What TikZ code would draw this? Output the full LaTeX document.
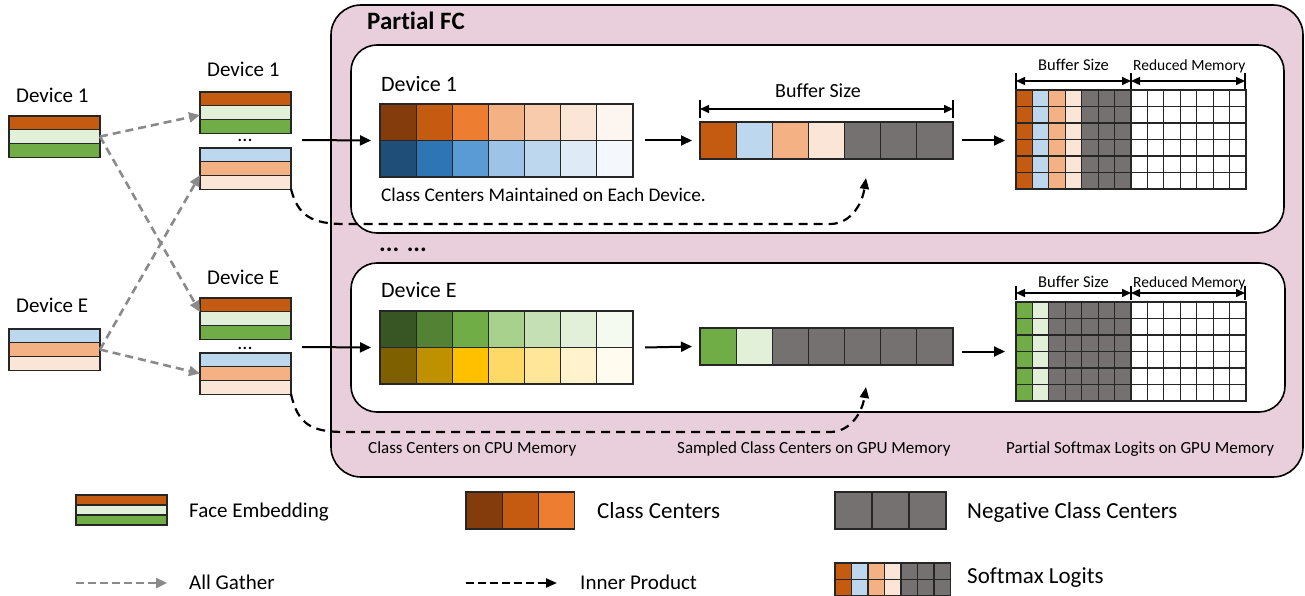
\documentclass[tikz,border=0pt]{standalone}
\usepackage{fontspec}
\setmainfont{Carlito}[Ligatures={NoCommon}]
\usetikzlibrary{arrows.meta,calc}

% palette
\definecolor{pinkbg}{HTML}{E9CFDB}
\definecolor{rust}{HTML}{C55A11}
\definecolor{lgreen}{HTML}{E2F0D9}
\definecolor{egreen}{HTML}{70AD47}
\definecolor{lblue}{HTML}{BDD7EE}
\definecolor{peach}{HTML}{F4B183}
\definecolor{cream}{HTML}{FBE5D6}
\definecolor{neg}{HTML}{767171}
\definecolor{gatherc}{HTML}{8A8A8A}

\tikzset{
  stripe/.style={draw=black!85, line width=1.1pt, inner sep=0pt, outer sep=0pt,
    minimum width=91pt, anchor=north west},
  cellbox/.style={draw=black!85, line width=1.1pt, inner sep=0pt, outer sep=0pt,
    anchor=north west},
  holder/.style={inner sep=0pt, outer sep=0pt, anchor=north west},
  panel/.style={draw=black, line width=1.6pt, inner sep=0pt, outer sep=0pt,
    anchor=north west},
  gather/.style={draw=gatherc, line width=2.6pt, dash pattern=on 8pt off 5pt,
    -{Triangle[length=11pt,width=10pt]}},
  innerprod/.style={draw=black, line width=2.2pt, dash pattern=on 9pt off 6pt,
    -{Triangle[length=11pt,width=9pt]}},
  flow/.style={draw=black, line width=2pt, -{Triangle[length=11pt,width=10pt]}},
  span/.style={draw=black, line width=1.5pt,
    {Triangle[length=9pt,width=8pt]}-{Triangle[length=9pt,width=8pt]}},
  tickbar/.style={draw=black, line width=2pt},
  lab/.style={inner sep=0pt, anchor=base west, font=\fontsize{21}{25}\selectfont},
  biglab/.style={inner sep=0pt, anchor=base west, font=\fontsize{23}{27}\selectfont},
  captext/.style={inner sep=0pt, anchor=base west, font=\fontsize{17}{20}\selectfont},
}

% three-stripe face embedding: name, x, top y, stripe height, colours top to bottom
\newcommand\embstack[7]{%
  \node[stripe, fill=#5, minimum height=#4pt] at (#2,#3) {};
  \node[stripe, fill=#6, minimum height=#4pt] at (#2,#3+#4) {};
  \node[stripe, fill=#7, minimum height=#4pt] at (#2,#3+2*#4) {};
  \node[holder, minimum width=91pt, minimum height={3*#4pt}] (#1) at (#2,#3) {};
}

\begin{document}
\begin{tikzpicture}[x=1pt,y=-1pt]
\useasboundingbox (0,0) rectangle (1305,596);

% ---------- Partial FC frame and the two device panels ----------
\node[panel, fill=pinkbg, rounded corners=30pt, minimum width=972pt,
  minimum height=472pt] (pfc) at (331,5) {};
\node[inner sep=0pt, anchor=base west, font=\bfseries\fontsize{25}{30}\selectfont]
  (pfctitle) at (367,30) {Part\kern0pt ial FC};
\node[panel, fill=white, rounded corners=26pt, minimum width=933pt,
  minimum height=188pt] (box1) at (351,45) {};
\node[panel, fill=white, rounded corners=26pt, minimum width=934pt,
  minimum height=149pt] (box2) at (351,263) {};
\node[inner sep=0pt, anchor=base, font=\bfseries\fontsize{25}{30}\selectfont] (more) at (403,251) {... ...};

% ---------- embeddings on the devices ----------
\node[lab] (l1lab) at (16,103) {Device 1};
\node[lab] (lelab) at (16,312) {Device E};
\node[lab] (m1lab) at (207,77) {Device 1};
\node[lab] (melab) at (207,284) {Device E};

\embstack{L1}{9}{116}{13.7}{rust}{lgreen}{egreen}
\embstack{LE}{9}{329}{13.7}{lblue}{peach}{cream}
\embstack{M1a}{200}{92}{13.7}{rust}{lgreen}{egreen}
\embstack{M1b}{200}{148}{13.7}{lblue}{peach}{cream}
\embstack{MEa}{200}{298}{13.7}{rust}{lgreen}{egreen}
\embstack{MEb}{200}{353}{13.7}{lblue}{peach}{cream}

\node[inner sep=0pt, anchor=base, font=\fontsize{20}{24}\selectfont] (dots1) at (245,142) {...};
\node[inner sep=0pt, anchor=base, font=\fontsize{20}{24}\selectfont] (dots2) at (245,349) {...};

% all-gather exchange
\draw[gather] (L1.east) -- ([yshift=-2.5pt]M1a.west);
\draw[gather] (L1.east) -- ([yshift=6.5pt]MEa.west);
\draw[gather] (LE.east) -- ([yshift=-6.5pt]M1b.west);
\draw[gather] (LE.east) -- (MEb.west);

% ---------- panel 1 : Device 1 ----------
\node[lab, font=\fontsize{22}{26}\selectfont] (d1lab) at (381,92) {Device 1};
\foreach \c [count=\i from 0] in {843C0C,C55A11,ED7D31,F4B183,F8CBAD,FBE5D6,FDF6F0} {
  \definecolor{tmpc}{HTML}{\c}
  \node[cellbox, fill=tmpc, minimum width=36.14pt, minimum height=36.5pt] (g1a\i) at (380+\i*36.14,104) {};
}
\foreach \c [count=\i from 0] in {1F4E79,2E75B6,5B9BD5,9DC3E6,BDD7EE,DEEBF7,F4F8FC} {
  \definecolor{tmpc}{HTML}{\c}
  \node[cellbox, fill=tmpc, minimum width=36.14pt, minimum height=36.5pt] (g1b\i) at (380+\i*36.14,140.5) {};
}
\node[holder, minimum width=253pt, minimum height=73pt] (G1) at (380,104) {};
\node[captext, font=\fontsize{19.3}{22}\selectfont] (g1cap) at (381,201) {Class Centers Maintained on Each Device.};

% sampled buffer
\foreach \c [count=\i from 0] in {rust,lblue,peach,cream,neg,neg,neg} {
  \node[cellbox, fill=\c, minimum width=36.14pt, minimum height=37pt] (b1c\i) at (700+\i*36.14,122) {};
}
\node[holder, minimum width=253pt, minimum height=37pt] (B1) at (700,122) {};
\coordinate (bs1l) at (700,109);
\coordinate (bs1r) at (953,109);
\draw[tickbar] ([yshift=9pt]bs1l) -- ([yshift=-9pt]bs1l);
\draw[tickbar] ([yshift=9pt]bs1r) -- ([yshift=-9pt]bs1r);
\draw[span] (bs1l) -- (bs1r);
\node[lab, font=\fontsize{20}{24}\selectfont] (bs1lab) at (775,98) {Buffer Size};

% partial logits
\foreach \c [count=\i from 0] in {rust,lblue,peach,cream,neg,neg,neg,white,white,white,white,white,white,white} {
  \foreach \r in {0,...,5} {
    \node[cellbox, fill=\c, minimum width=16.43pt, minimum height=16.5pt] (lg1-\i-\r) at (1016+\i*16.43,90+\r*16.5) {};
  }
}
\node[holder, minimum width=230pt, minimum height=99pt] (LG1) at (1016,90) {};
\coordinate (lt1a) at (1016,81);
\coordinate (lt1b) at (1131,81);
\coordinate (lt1c) at (1245,81);
\foreach \t in {lt1a,lt1b,lt1c} \draw[tickbar] ([yshift=8pt]\t) -- ([yshift=-8pt]\t);
\draw[span] (lt1a) -- (lt1b);
\draw[span] (lt1b) -- (lt1c);
\node[lab, font=\fontsize{16.5}{20}\selectfont] (lbs1) at (1038,71) {Buffer Size};
\node[lab, font=\fontsize{15.5}{19}\selectfont] (lrm1) at (1133,71) {Reduced Memory};

% flow in panel 1
\coordinate (in1) at (302,140);
\draw[flow] (in1) -- ([xshift=-9pt]G1.west);
\draw[flow] ([xshift=12pt]G1.east) -- ([xshift=-8pt]B1.west);
\draw[flow] ([xshift=9pt]B1.east) -- ([xshift=-11pt]LG1.west |- B1.east);

% ---------- panel 2 : Device E ----------
\node[lab, font=\fontsize{22}{26}\selectfont] (dElab) at (381,297) {Device E};
\foreach \c [count=\i from 0] in {375623,548235,70AD47,A9D18E,C5E0B4,E2F0D9,F5FAF1} {
  \definecolor{tmpc}{HTML}{\c}
  \node[cellbox, fill=tmpc, minimum width=36.14pt, minimum height=36.5pt] (g2a\i) at (380+\i*36.14,311) {};
}
\foreach \c [count=\i from 0] in {7F6000,BF9000,FFC000,FFD966,FFE699,FFF2CC,FFFBEE} {
  \definecolor{tmpc}{HTML}{\c}
  \node[cellbox, fill=tmpc, minimum width=36.14pt, minimum height=36.5pt] (g2b\i) at (380+\i*36.14,347.5) {};
}
\node[holder, minimum width=253pt, minimum height=73pt] (G2) at (380,311) {};

\foreach \c [count=\i from 0] in {egreen,lgreen,neg,neg,neg,neg,neg} {
  \node[cellbox, fill=\c, minimum width=36.14pt, minimum height=37pt] (b2c\i) at (700+\i*36.14,328) {};
}
\node[holder, minimum width=253pt, minimum height=37pt] (B2) at (700,328) {};

\foreach \c [count=\i from 0] in {egreen,lgreen,neg,neg,neg,neg,neg,white,white,white,white,white,white,white} {
  \foreach \r in {0,...,5} {
    \node[cellbox, fill=\c, minimum width=16.43pt, minimum height=16.5pt] (lg2-\i-\r) at (1016+\i*16.43,302+\r*16.5) {};
  }
}
\node[holder, minimum width=230pt, minimum height=99pt] (LG2) at (1016,302) {};
\coordinate (lt2a) at (1016,293);
\coordinate (lt2b) at (1131,293);
\coordinate (lt2c) at (1245,293);
\foreach \t in {lt2a,lt2b,lt2c} \draw[tickbar] ([yshift=7pt]\t) -- ([yshift=-7pt]\t);
\draw[span] (lt2a) -- (lt2b);
\draw[span] (lt2b) -- (lt2c);
\node[lab, font=\fontsize{16.5}{20}\selectfont] (lbs2) at (1038,287) {Buffer Size};
\node[lab, font=\fontsize{15.5}{19}\selectfont] (lrm2) at (1133,287) {Reduced Memory};

\coordinate (in2) at (302,347);
\draw[flow] (in2) -- ([xshift=-9pt]G2.west);
\draw[flow] ([xshift=12pt]G2.east) -- ([xshift=-8pt]B2.west);
\draw[flow] ([xshift=9pt]B2.east |- LG2.west) -- ([xshift=-11pt]LG2.west);

% inner products feeding the sampled buffers
\coordinate (ip1) at (866,178);
\coordinate (ip2) at (866,387);
\draw[innerprod] (M1b.south east) .. controls (298,216) and (312,224) .. (345,224)
  -- (830,224) .. controls (850,224) and (862,205) .. (ip1);
\draw[innerprod] (MEb.south east) .. controls (298,425) and (312,432) .. (345,432)
  -- (830,432) .. controls (850,432) and (862,413) .. (ip2);

% memory captions
\node[captext] (cpucap) at (368,453) {Class Centers on CPU Memory};
\node[captext] (gpucap) at (677,453) {Sampled Class Centers on GPU Memory};
\node[captext] (logcap) at (1006,453) {Part\kern0pt ial Softmax Logits on GPU Memory};

% ---------- legend ----------
\embstack{legemb}{76}{495}{10}{rust}{lgreen}{egreen}
\node[lab] (legembt) at (189,517) {Face Embedding};

\foreach \c [count=\i from 0] in {843C0C,C55A11,ED7D31} {
  \definecolor{tmpc}{HTML}{\c}
  \node[cellbox, fill=tmpc, minimum width=36.3pt, minimum height=37pt] (legcc\i) at (466+\i*36.3,492) {};
}
\node[biglab] (legcct) at (597,518) {Class Centers};

\foreach \i in {0,1,2} {
  \node[cellbox, fill=neg, minimum width=37pt, minimum height=37pt] (legneg\i) at (835+\i*37,492) {};
}
\node[biglab] (legnegt) at (967,518) {Negative Class Centers};

\foreach \c [count=\i from 0] in {rust,lblue,peach,cream,neg,neg,neg} {
  \foreach \r in {0,1} {
    \node[cellbox, fill=\c, minimum width=16.5pt, minimum height=16.5pt] (legsm-\i-\r) at (835+\i*16.5,563+\r*16.5) {};
  }
}
\node[biglab] (legsmt) at (967,583) {Softmax Logits};

\coordinate (agA) at (76,583);
\coordinate (agB) at (167,583);
\draw[gather, line width=2.4pt, dash pattern=on 8pt off 4pt] (agA) -- (agB);
\node[lab] (legagt) at (189,589) {All Gather};

\coordinate (ipA) at (466,583);
\coordinate (ipB) at (557,583);
\draw[innerprod, dash pattern=on 8pt off 4pt] (ipA) -- (ipB);
\node[lab] (legipt) at (580,589) {Inner Product};

\end{tikzpicture}
\end{document}
